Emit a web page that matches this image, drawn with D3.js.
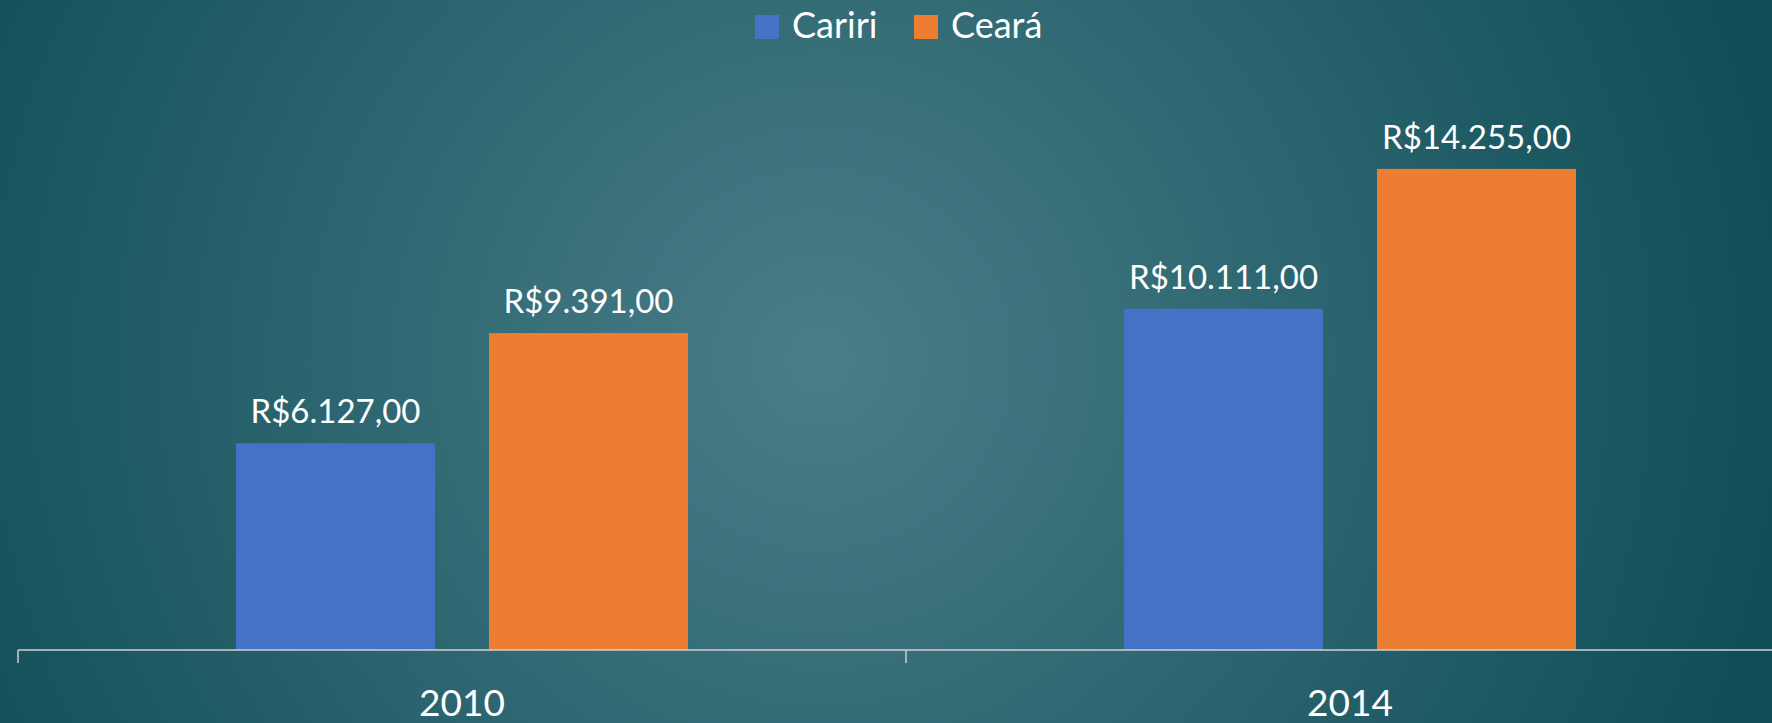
<!DOCTYPE html>
<html>
<head>
<meta charset="utf-8">
<script src="https://cdn.jsdelivr.net/npm/d3@7"></script>
<style>
  html, body { margin: 0; padding: 0; overflow: hidden; }
  svg { display: block; }
</style>
</head>
<body>
<script>
const width = 1772;
const height = 723;

const years = ["2010", "2014"];
const seriesNames = ["Cariri", "Ceará"];
const cariri = [6127, 10111];
const ceara = [9391, 14255];
const seriesColors = ["#4472c4", "#ed7d31"];

const fmt = v => "R$" + d3.format(",.2f")(v).replace(/,/g, "#").replace(".", ",").replace(/#/g, ".");

const svg = d3.select("body").append("svg")
  .attr("width", width)
  .attr("height", height)
  .style("font-family", "Lato, 'Open Sans', sans-serif");

const defs = svg.append("defs");
const grad = defs.append("radialGradient")
  .attr("id", "bg")
  .attr("gradientUnits", "userSpaceOnUse")
  .attr("cx", 820).attr("cy", 360).attr("r", 980);
grad.append("stop").attr("offset", 0).attr("stop-color", "#4a7e89");
grad.append("stop").attr("offset", 0.45).attr("stop-color", "#2f6872");
grad.append("stop").attr("offset", 1).attr("stop-color", "#0f4d57");

svg.append("rect").attr("width", width).attr("height", height).attr("fill", "url(#bg)");

const baseY = 650;
const x0 = d3.scaleBand().domain(years).range([18, 1794]);
const x1 = d3.scaleBand().domain(seriesNames).range([0, x0.bandwidth()])
  .paddingInner(0.2134).paddingOuter(0.8617);
const y = d3.scaleLinear().domain([0, 16000]).range([baseY, baseY - 540]);

const rows = years.map((yr, i) => ({year: yr, values: [cariri[i], ceara[i]]}));

const groups = svg.append("g").selectAll("g").data(rows).join("g")
  .attr("transform", d => `translate(${x0(d.year)},0)`);

groups.selectAll("rect").data(d => d.values.map((v, j) => ({name: seriesNames[j], value: v, color: seriesColors[j]})))
  .join("rect")
  .attr("x", d => x1(d.name))
  .attr("y", d => y(d.value))
  .attr("width", x1.bandwidth())
  .attr("height", d => baseY - y(d.value))
  .attr("fill", d => d.color);

groups.selectAll("text").data(d => d.values.map((v, j) => ({name: seriesNames[j], value: v})))
  .join("text")
  .attr("x", d => x1(d.name) + x1.bandwidth() / 2)
  .attr("y", d => y(d.value) - 20)
  .attr("text-anchor", "middle")
  .attr("fill", "#ffffff")
  .attr("font-size", "33px")
  .text(d => fmt(d.value));

// axis
const axisG = svg.append("g");
axisG.append("line")
  .attr("x1", 18).attr("x2", width).attr("y1", baseY).attr("y2", baseY)
  .attr("stroke", "#d0d0d0").attr("stroke-width", 1.5);
axisG.selectAll("line.tick").data(years).join("line")
  .attr("class", "tick")
  .attr("x1", d => x0(d)).attr("x2", d => x0(d))
  .attr("y1", baseY).attr("y2", baseY + 13)
  .attr("stroke", "#d0d0d0").attr("stroke-width", 1.5);
axisG.selectAll("text").data(years).join("text")
  .attr("x", d => x0(d) + x0.bandwidth() / 2)
  .attr("y", 716)
  .attr("text-anchor", "middle")
  .attr("fill", "#ffffff")
  .attr("font-size", "37px")
  .text(d => d);

// legend
const legend = svg.append("g");
const legendX = [755, 914];
seriesNames.forEach((name, i) => {
  legend.append("rect").attr("x", legendX[i]).attr("y", 15).attr("width", 24).attr("height", 24).attr("fill", seriesColors[i]);
  legend.append("text").attr("x", legendX[i] + 37).attr("y", 38).attr("fill", "#ffffff").attr("font-size", "36px").text(name);
});
</script>
</body>
</html>
